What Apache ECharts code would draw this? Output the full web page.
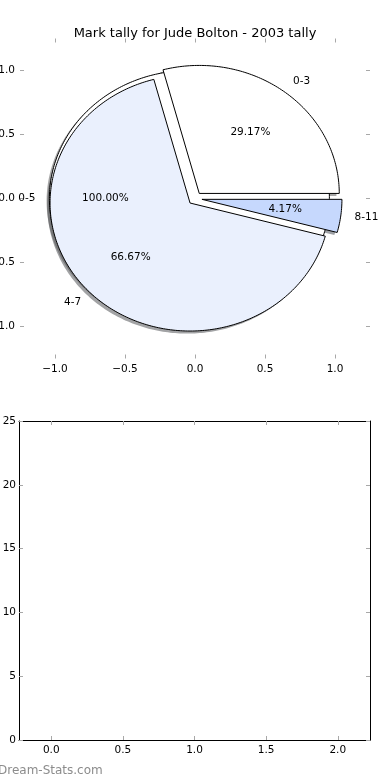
<!DOCTYPE html>
<html><head><meta charset="utf-8">
<script src="https://cdn.jsdelivr.net/npm/echarts@6/dist/echarts.min.js"></script>
<style>html,body{margin:0;padding:0;background:#fff}#c{width:390px;height:780px}</style>
</head><body><div id="c"></div>
<script>
// ---- data ----
const titleText = 'Mark tally for Jude Bolton - 2003 tally';
const outerLabels = ['0-5'];
const outerValues = [24];
const innerLabels = ['0-3', '4-7', '8-11'];
const innerValues = [7, 16, 1];
const pieTicks = [-1, -0.5, 0, 0.5, 1];
const barXTicks = [0, 0.5, 1, 1.5, 2];
const barValues = [];
const footerText = 'Dream-Stats.com';

// ---- style ----
const outerExplode = [0.04];
const innerExplode = [0.05, 0.05, 0.05];
const outerColors = ['#ffffff'];
const innerColors = ['#ffffff', '#eaf0fd', '#c6d8fd'];
const FONT = '"DejaVu Sans", sans-serif';
const FS = 10.5;

function buildSlices(values, labels, explode, colors) {
  const total = values.reduce((a, b) => a + b, 0);
  let cum = 0;
  return values.map((v, i) => {
    const t1 = 360 * cum / total; cum += v;
    const t2 = 360 * cum / total;
    return { value: [t1, t2, explode[i]], label: labels[i], pct: (100 * v / total).toFixed(2) + '%', color: colors[i] };
  });
}
const slices = buildSlices(outerValues, outerLabels, outerExplode, outerColors)
  .concat(buildSlices(innerValues, innerLabels, innerExplode, innerColors));

function centerOf(s) {
  const mid = (s.value[0] + s.value[1]) / 2 * Math.PI / 180;
  return [s.value[2] * Math.cos(mid), s.value[2] * Math.sin(mid), mid];
}
function wedgePoints(api, s, dx, dy) {
  const [cx0, cy0] = centerOf(s);
  const cx = cx0 + dx, cy = cy0 + dy;
  const t1 = s.value[0], t2 = s.value[1];
  const pts = [];
  if (t2 - t1 < 359.999) pts.push(api.coord([cx, cy]));
  const n = Math.max(12, Math.ceil(t2 - t1));
  for (let k = 0; k <= n; k++) {
    const a = (t1 + (t2 - t1) * k / n) * Math.PI / 180;
    pts.push(api.coord([cx + Math.cos(a), cy + Math.sin(a)]));
  }
  return pts;
}
function shadowColor(hex) {
  const r = parseInt(hex.slice(1, 3), 16), g = parseInt(hex.slice(3, 5), 16), b = parseInt(hex.slice(5, 7), 16);
  return 'rgba(' + Math.round(r * 0.3) + ',' + Math.round(g * 0.3) + ',' + Math.round(b * 0.3) + ',0.5)';
}
const fmt = v => (v < 0 ? '\u2212' : '') + Math.abs(v).toFixed(1);
const tickStyle = { color: '#a8a8a8', width: 1 };

function pieAxis(extra) {
  return Object.assign({
    gridIndex: 0, type: 'value', min: -1.25, max: 1.25,
    axisLine: { show: true, onZero: false, lineStyle: { color: 'rgba(0,0,0,0)', width: 1 } },
    splitLine: { show: false },
    axisTick: { show: true, inside: true, length: 4, lineStyle: tickStyle, customValues: pieTicks },
    axisLabel: { show: true, customValues: pieTicks, formatter: fmt, fontSize: FS, color: '#000', fontFamily: FONT, margin: 5 }
  }, extra);
}
function barAxis(extra) {
  return Object.assign({
    gridIndex: 1, type: 'value',
    axisLine: { show: true, onZero: false, lineStyle: { color: '#000', width: 1 } },
    splitLine: { show: false },
    axisTick: { show: true, inside: true, length: 4, lineStyle: tickStyle },
    axisLabel: { show: true, fontSize: FS, color: '#000', fontFamily: FONT, margin: 3 }
  }, extra);
}

const chart = echarts.init(document.getElementById('c'), null, { renderer: 'canvas' });
chart.setOption({
  animation: false,
  backgroundColor: '#fff',
  title: { text: titleText, left: 'center', top: 22, textStyle: { fontSize: 13, fontWeight: 'normal', fontFamily: FONT, color: '#000' } },
  grid: [
    { left: 20, width: 350, top: 38.5, height: 320, outerBoundsMode: 'none', containLabel: false },
    { left: 19, right: 20, top: 421, bottom: 40, outerBoundsMode: 'none', containLabel: false }
  ],
  xAxis: [
    pieAxis({ position: 'bottom' }),
    pieAxis({ position: 'top', axisLabel: { show: false } }),
    barAxis({ position: 'bottom', min: -0.225, max: 2.225,
      axisTick: { show: true, inside: true, length: 4, lineStyle: tickStyle, customValues: barXTicks },
      axisLabel: { show: true, customValues: barXTicks, formatter: fmt, fontSize: FS, color: '#000', fontFamily: FONT, margin: 5 } }),
    barAxis({ position: 'top', min: -0.225, max: 2.225,
      axisTick: { show: true, inside: true, length: 4, lineStyle: tickStyle, customValues: barXTicks },
      axisLabel: { show: false } })
  ],
  yAxis: [
    pieAxis({ position: 'left' }),
    pieAxis({ position: 'right', axisLabel: { show: false } }),
    barAxis({ position: 'left', min: 0, max: 25, interval: 5 }),
    barAxis({ position: 'right', min: 0, max: 25, interval: 5, axisLabel: { show: false } })
  ],
  graphic: [
    { type: 'text', left: -2, top: 765, style: { text: footerText, fill: '#8c8c8c', font: '12px ' + FONT } }
  ],
  series: [
    {
      type: 'custom', xAxisIndex: 0, yAxisIndex: 0, z: 1, clip: false,
      data: slices.map(s => s.value),
      renderItem: (params, api) => {
        const s = slices[params.dataIndex];
        return { type: 'polygon', shape: { points: wedgePoints(api, s, -0.02, -0.02) }, style: { fill: shadowColor(s.color) } };
      }
    },
    {
      type: 'custom', xAxisIndex: 0, yAxisIndex: 0, z: 2, clip: false,
      data: slices.map(s => s.value),
      renderItem: (params, api) => {
        const s = slices[params.dataIndex];
        return { type: 'polygon', shape: { points: wedgePoints(api, s, 0, 0) }, style: { fill: s.color, stroke: '#000', lineWidth: 1 } };
      }
    },
    {
      type: 'custom', xAxisIndex: 0, yAxisIndex: 0, z: 3, clip: false,
      data: slices.map(s => s.value),
      renderItem: (params, api) => {
        const s = slices[params.dataIndex];
        const [cx, cy, mid] = centerOf(s);
        const lx = cx + 1.1 * Math.cos(mid), ly = cy + 1.1 * Math.sin(mid);
        const px = cx + 0.6 * Math.cos(mid), py = cy + 0.6 * Math.sin(mid);
        const lp = api.coord([lx, ly]), pp = api.coord([px, py]);
        return { type: 'group', children: [
          { type: 'text', x: lp[0], y: lp[1], style: { text: s.label, fill: '#000', font: FS + 'px ' + FONT, align: lx > 0 ? 'left' : 'right', verticalAlign: 'middle' } },
          { type: 'text', x: pp[0], y: pp[1], style: { text: s.pct, fill: '#000', font: FS + 'px ' + FONT, align: 'center', verticalAlign: 'middle' } }
        ] };
      }
    },
    { type: 'bar', xAxisIndex: 2, yAxisIndex: 2, data: barValues }
  ]
});
</script>
</body></html>
